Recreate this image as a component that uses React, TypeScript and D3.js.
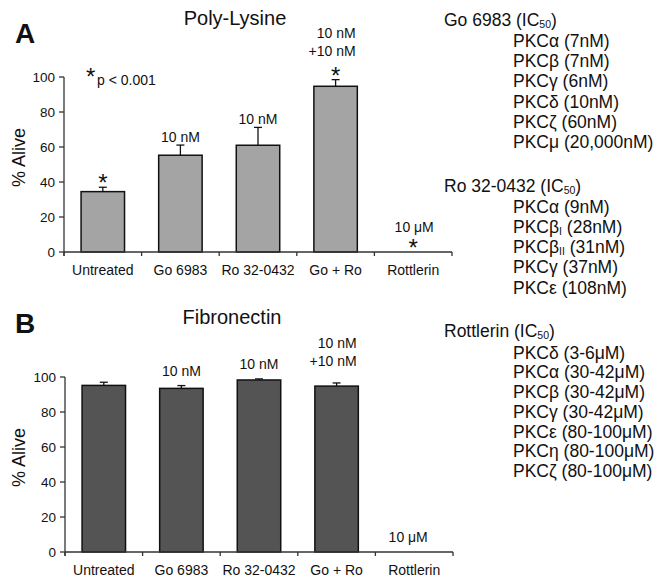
import React from 'react';
import * as d3 from 'd3';

const categories = ['Untreated', 'Go 6983', 'Ro 32-0432', 'Go + Ro', 'Rottlerin'];
const yTicks = [0, 20, 40, 60, 80, 100];

const polyLysineValues = [34.5, 55.3, 61, 94.7, 0];
const polyLysineErrors = [2.5, 5.8, 10.2, 3.8, 0];
const polyLysineDoses = [[], ['10 nM'], ['10 nM'], ['10 nM', '+10 nM'], ['10 μM']];
const polyLysineSignificant = [true, false, false, true, true];

const fibronectinValues = [95.2, 93.5, 98.3, 94.8, 0];
const fibronectinErrors = [1.8, 1.6, 0.6, 1.8, 0];
const fibronectinDoses = [[], ['10 nM'], ['10 nM'], ['10 nM', '+10 nM'], ['10 μM']];
const fibronectinSignificant = [false, false, false, false, false];

type Entry = { base: string; sub?: string; rest?: string };

const goHeader: Entry = { base: 'Go 6983 (IC', sub: '50', rest: ')' };
const goList: Entry[] = [
  { base: 'PKCα (7nM)' },
  { base: 'PKCβ (7nM)' },
  { base: 'PKCγ (6nM)' },
  { base: 'PKCδ (10nM)' },
  { base: 'PKCζ (60nM)' },
  { base: 'PKCμ (20,000nM)' },
];
const roHeader: Entry = { base: 'Ro 32-0432 (IC', sub: '50', rest: ')' };
const roList: Entry[] = [
  { base: 'PKCα (9nM)' },
  { base: 'PKCβ', sub: 'I', rest: ' (28nM)' },
  { base: 'PKCβ', sub: 'II', rest: ' (31nM)' },
  { base: 'PKCγ (37nM)' },
  { base: 'PKCε (108nM)' },
];
const rottHeader: Entry = { base: 'Rottlerin (IC', sub: '50', rest: ')' };
const rottList: Entry[] = [
  { base: 'PKCδ (3-6μM)' },
  { base: 'PKCα (30-42μM)' },
  { base: 'PKCβ (30-42μM)' },
  { base: 'PKCγ (30-42μM)' },
  { base: 'PKCε (80-100μM)' },
  { base: 'PKCη (80-100μM)' },
  { base: 'PKCζ (80-100μM)' },
];

const FONT = '"Liberation Sans", Arial, Helvetica, sans-serif';
const AXIS = '#333';

function EntryText({ e, x, y, size }: { e: Entry; x: number; y: number; size: number }) {
  const shift = size * 0.13;
  return (
    <text x={x} y={y} fontSize={size} fontFamily={FONT} fill="#111">
      <tspan>{e.base}</tspan>
      {e.sub && (
        <tspan fontSize={size * 0.6} dy={shift}>
          {e.sub}
        </tspan>
      )}
      {e.rest && <tspan dy={e.sub ? -shift : 0}>{e.rest}</tspan>}
    </text>
  );
}

type PanelProps = {
  letter: string;
  title: string;
  titleX: number;
  titleY: number;
  letterY: number;
  x0: number;
  x1: number;
  yTop: number;
  yBottom: number;
  values: number[];
  errors: number[];
  doses: string[][];
  significant: boolean[];
  fill: string;
  doseGap: number;
  rottShift: number;
  showP: boolean;
};

function Panel(p: PanelProps) {
  const x = d3.scaleBand<string>().domain(categories).range([p.x0, p.x1]).padding(0);
  const y = d3.scaleLinear().domain([0, 100]).range([p.yBottom, p.yTop]);
  const bw = x.bandwidth() * 0.56;
  const boundaries = categories.map((c) => x(c)!).concat([p.x1]);
  const astSize = 24;
  return (
    <g>
      <text x={15} y={p.letterY} fontSize={28} fontWeight="bold" fontFamily={FONT} fill="#111">
        {p.letter}
      </text>
      <text x={p.titleX} y={p.titleY} fontSize={20} fontFamily={FONT} textAnchor="middle" fill="#111">
        {p.title}
      </text>
      <text
        transform={`translate(25,${(p.yTop + p.yBottom) / 2 - 7}) rotate(-90)`}
        fontSize={18}
        fontFamily={FONT}
        textAnchor="middle"
        fill="#111"
      >
        % Alive
      </text>
      {categories.map((c, i) => {
        const cx = x(c)! + x.bandwidth() / 2;
        if (p.values[i] <= 0) return null;
        return (
          <rect
            key={c}
            x={cx - bw / 2}
            y={y(p.values[i])}
            width={bw}
            height={y(0) - y(p.values[i])}
            fill={p.fill}
            stroke="#111"
            strokeWidth={1.5}
          />
        );
      })}
      {categories.map((c, i) => {
        const cx = x(c)! + x.bandwidth() / 2;
        if (p.errors[i] <= 0) return null;
        const t = y(p.values[i] + p.errors[i]);
        return (
          <g key={'e' + c} stroke="#111" strokeWidth={1.3}>
            <line x1={cx} x2={cx} y1={y(p.values[i])} y2={t} />
            <line x1={cx - 4} x2={cx + 4} y1={t} y2={t} />
          </g>
        );
      })}
      <line x1={p.x0} x2={p.x0} y1={p.yTop} y2={p.yBottom + 4} stroke={AXIS} strokeWidth={1.3} />
      <line x1={p.x0} x2={p.x1} y1={p.yBottom} y2={p.yBottom} stroke={AXIS} strokeWidth={1.3} />
      {yTicks.map((t) => (
        <g key={'yt' + t}>
          <line x1={p.x0 - 5} x2={p.x0} y1={y(t)} y2={y(t)} stroke={AXIS} strokeWidth={1.3} />
          <text
            x={p.x0 - 9}
            y={y(t) + 4.8}
            fontSize={13.5}
            fontFamily={FONT}
            textAnchor="end"
            fill="#111"
          >
            {t}
          </text>
        </g>
      ))}
      {boundaries.map((b, i) => (
        <line key={'xt' + i} x1={b} x2={b} y1={p.yBottom} y2={p.yBottom + 4} stroke={AXIS} strokeWidth={1.3} />
      ))}
      {categories.map((c) => (
        <text
          key={'xl' + c}
          x={x(c)! + x.bandwidth() / 2}
          y={p.yBottom + 23}
          fontSize={14}
          fontFamily={FONT}
          textAnchor="middle"
          fill="#111"
        >
          {c}
        </text>
      ))}
      {categories.map((c, i) => {
        const cx = x(c)! + x.bandwidth() / 2;
        const top = y(p.values[i] + p.errors[i]);
        let cursor = top;
        const els: React.ReactNode[] = [];
        if (p.significant[i]) {
          const center = top - 9.5;
          els.push(
            <text
              key="ast"
              x={cx}
              y={center + astSize * 0.57}
              fontSize={astSize}
              fontFamily={FONT}
              textAnchor="middle"
              fill="#111"
            >
              *
            </text>
          );
          cursor = center - 5;
        }
        const lines = p.doses[i];
        if (lines.length) {
          const multi = lines.length > 1;
          const gap = p.significant[i] ? (multi ? 14 : 11) : p.doseGap + (multi ? 7 : 0);
          const lastCenter = cursor - gap;
          const anchor = multi ? 'end' : 'middle';
          const tx = multi ? cx + 20 : i === 4 ? cx + p.rottShift : cx;
          lines.forEach((l, k) => {
            const center = lastCenter - (lines.length - 1 - k) * 18;
            els.push(
              <text
                key={'d' + k}
                x={tx}
                y={center + 5}
                fontSize={14}
                fontFamily={FONT}
                textAnchor={anchor}
                fill="#111"
              >
                {l}
              </text>
            );
          });
        }
        return <g key={'a' + c}>{els}</g>;
      })}
      {p.showP && (
        <g>
          <text x={86} y={71 + 14} fontSize={astSize} fontFamily={FONT} fill="#111">
            *
          </text>
          <text x={97} y={85} fontSize={14} fontFamily={FONT} fill="#111">
            p &lt; 0.001
          </text>
        </g>
      )}
    </g>
  );
}

export default function App() {
  const rs = 17.5;
  return (
    <div style={{ position: 'absolute', left: 0, top: 0 }}>
      <svg width={661} height={588} style={{ display: 'block', background: '#fff' }}>
        <rect width={661} height={588} fill="#fff" />
        <Panel
          letter="A"
          title="Poly-Lysine"
          titleX={235}
          titleY={25}
          letterY={43}
          x0={64}
          x1={452}
          yTop={77}
          yBottom={252}
          values={polyLysineValues}
          errors={polyLysineErrors}
          doses={polyLysineDoses}
          significant={polyLysineSignificant}
          fill="#a4a4a4"
          doseGap={8}
          rottShift={1}
          showP={true}
        />
        <Panel
          letter="B"
          title="Fibronectin"
          titleX={232}
          titleY={324}
          letterY={333}
          x0={65}
          x1={453}
          yTop={377}
          yBottom={552}
          values={fibronectinValues}
          errors={fibronectinErrors}
          doses={fibronectinDoses}
          significant={fibronectinSignificant}
          fill="#545454"
          doseGap={15}
          rottShift={-6}
          showP={false}
        />
        <EntryText e={goHeader} x={444} y={26} size={rs} />
        {goList.map((e, i) => (
          <EntryText key={'go' + i} e={e} x={513} y={47 + i * 20.2} size={rs} />
        ))}
        <EntryText e={roHeader} x={444} y={191.5} size={rs} />
        {roList.map((e, i) => (
          <EntryText key={'ro' + i} e={e} x={513} y={212.7 + i * 20.2} size={rs} />
        ))}
        <EntryText e={rottHeader} x={444} y={337} size={rs} />
        {rottList.map((e, i) => (
          <EntryText key={'rt' + i} e={e} x={513} y={358.7 + i * 19.7} size={rs} />
        ))}
      </svg>
    </div>
  );
}
